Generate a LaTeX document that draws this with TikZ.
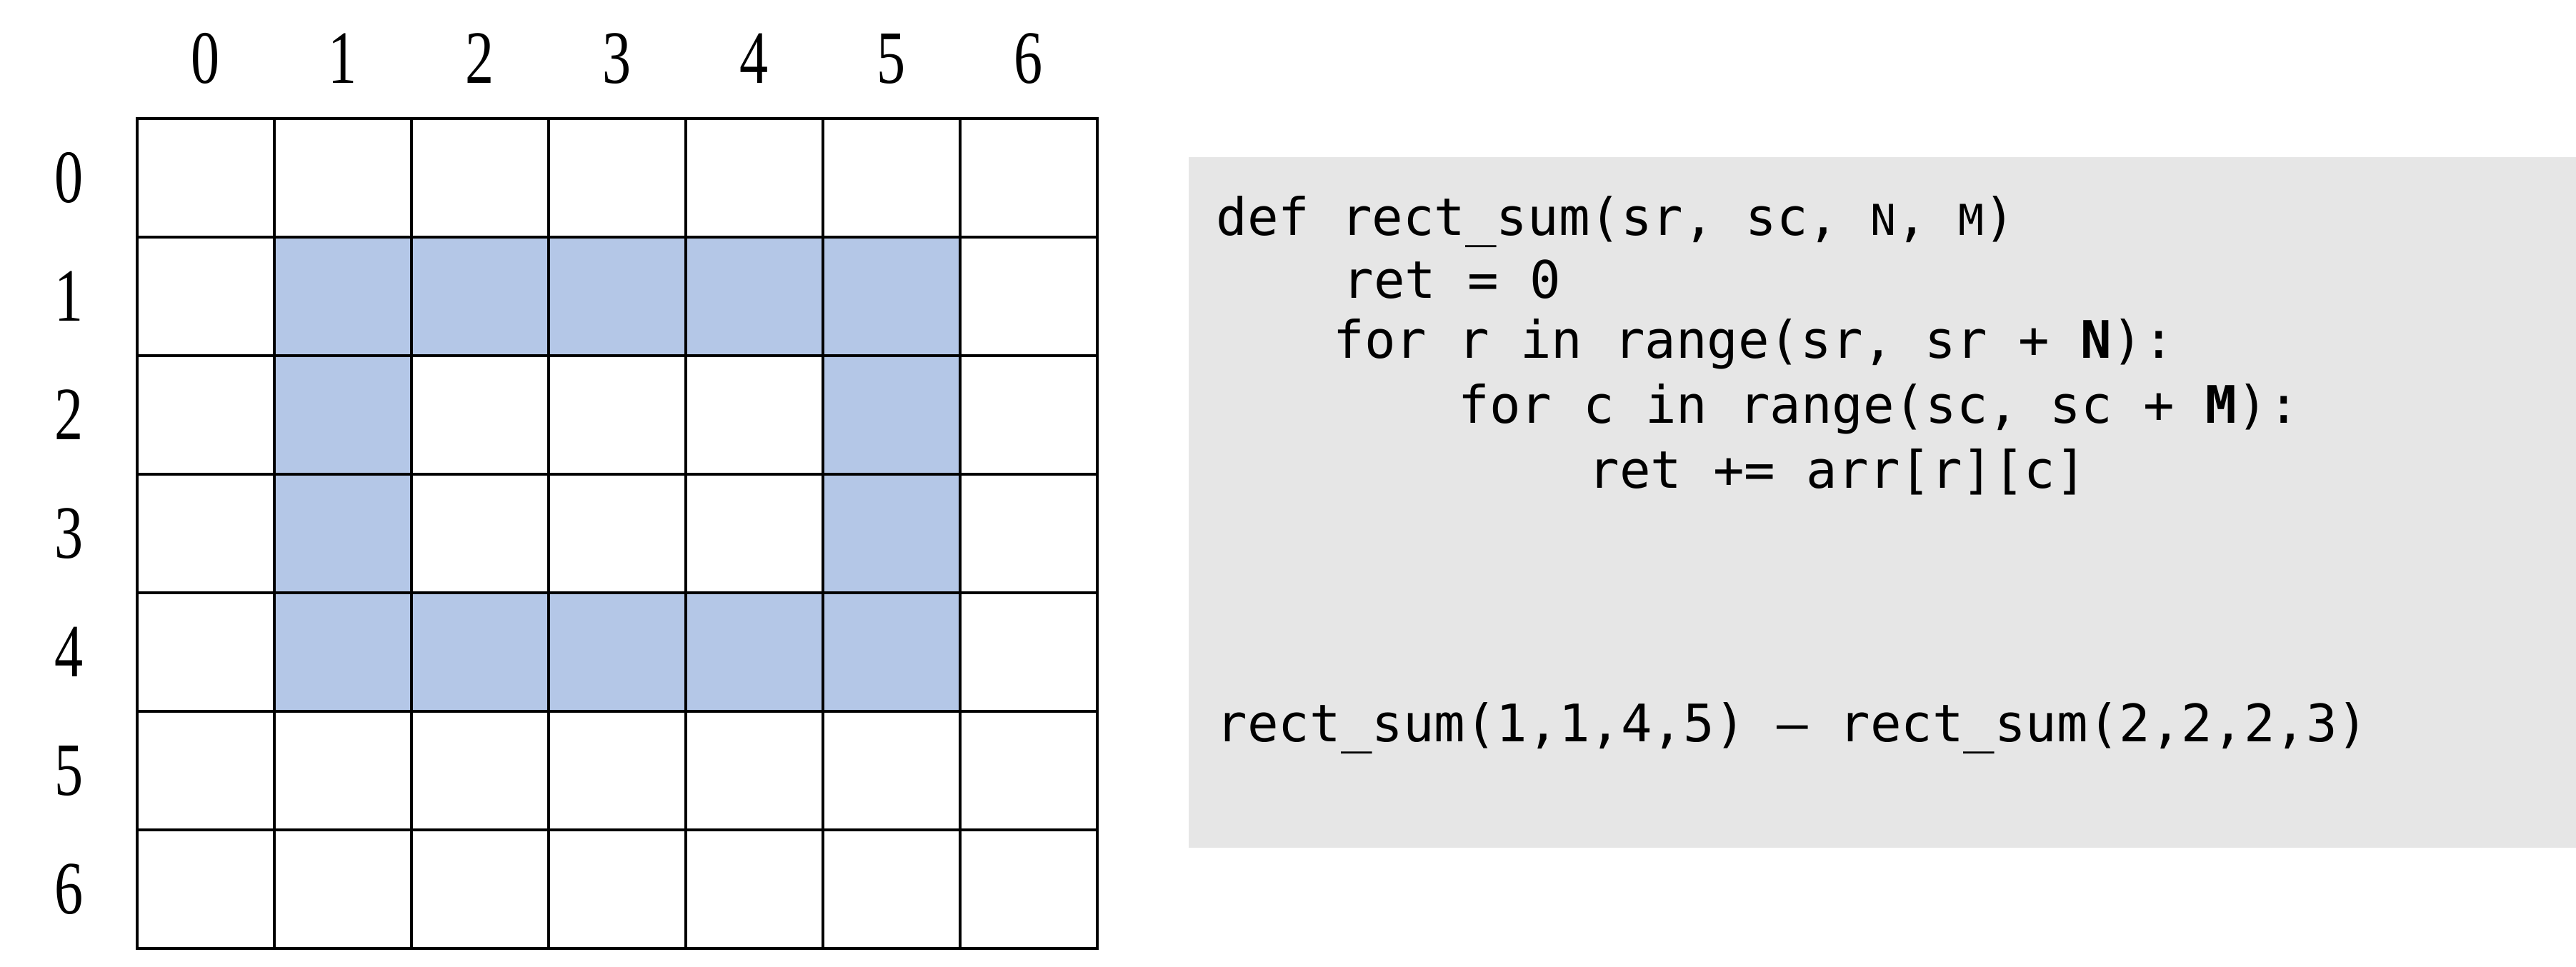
\documentclass[tikz,border=0pt]{standalone}
\usepackage{fontspec}
\setmainfont{Liberation Serif}[FakeStretch=0.76]
\setmonofont{DejaVu Sans Mono}
\usepackage{tikz}
\usetikzlibrary{positioning}

\definecolor{ringblue}{HTML}{B4C7E7}
\definecolor{codegray}{HTML}{E6E6E6}

\tikzset{
    cell0/.style={draw, line width=1pt, fill=white, inner sep=0pt, outer sep=0pt,
        minimum width=1.92cm, minimum height=1.66cm},
    cell1/.style={cell0, fill=ringblue},
    idx/.style={inner sep=0pt, font=\fontsize{30}{33}\selectfont},
    code/.style={inner sep=0pt, anchor=base west, font=\ttfamily\fontsize{20.6}{25}\selectfont}
}

\begin{document}
\begin{tikzpicture}[x=1cm, y=-1cm]
            \useasboundingbox (0,0) rectangle (36.06,13.53);

            % grid
            \foreach \r in {0,...,6}{
                \foreach \c in {0,...,6}{
                    \pgfmathtruncatemacro{\ring}{(\r>0)*(\r<5)*(\c>0)*(\c<6)*(1-(\r>1)*(\r<4)*(\c>1)*(\c<5))}
                    \node[cell\ring] (cell-\r-\c) at ({2.88+1.92*\c}, {2.49+1.66*\r}) {};
                }
            }

            % index labels
            \foreach \i in {0,...,6}{
                \node[idx] (col-\i) at ({2.88+1.92*\i}, 0.82) {\i};
                \node[idx] (row-\i) at (0.97, {2.49+1.66*\i}) {\i};
            }

            % code box
            \fill[codegray] (16.64,2.20) rectangle (36.06,11.87);

            \node[code] (line1) at (17.02,3.29)
            {def rect\_sum(sr, sc, {\fontsize{17}{20}\selectfont N}, {\fontsize{17}{20}\selectfont M})};
            \node[code] (line2) at (18.79,4.17) {ret = 0};
            \node[code] (line3) at (18.66,5.01) {for r in range(sr, sr + \textbf{N}):};
            \node[code] (line4) at (20.41,5.92) {for c in range(sc, sc + \textbf{M}):};
            \node[code] (line5) at (22.23,6.83) {ret += arr[r][c]};

            \node[code] (call) at (17.02,10.38) {rect\_sum(1,1,4,5) – rect\_sum(2,2,2,3)};
\end{tikzpicture}
\end{document}
